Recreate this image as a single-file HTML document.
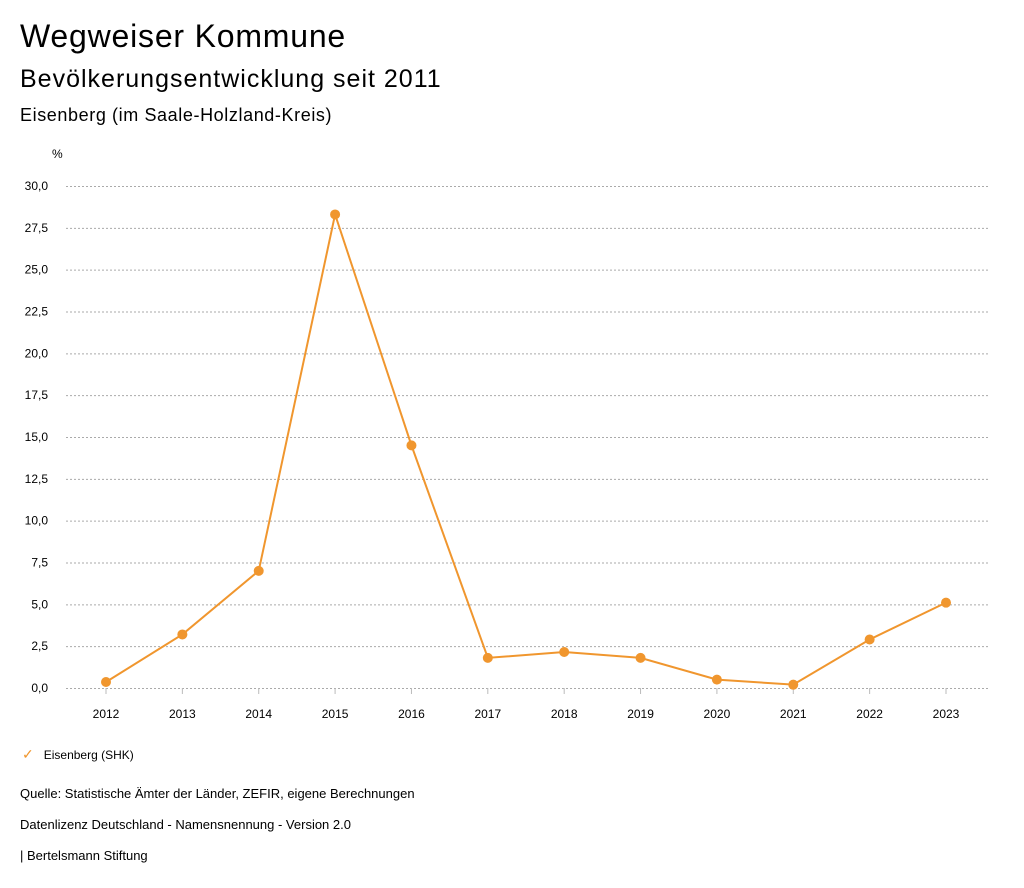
<!DOCTYPE html>
<html><head><meta charset="utf-8"><style>
body{margin:0;width:1024px;height:888px;background:#fff;font-family:"Liberation Sans",sans-serif;color:#000;overflow:hidden}
.t{position:absolute;white-space:nowrap}
</style></head><body>
<div class="t" style="left:20px;top:18px;font-size:32px;letter-spacing:0.8px">Wegweiser Kommune</div>
<div class="t" style="left:20px;top:65px;font-size:25px;letter-spacing:1px">Bevölkerungsentwicklung seit 2011</div>
<div class="t" style="left:20px;top:105px;font-size:18px;letter-spacing:0.6px">Eisenberg (im Saale-Holzland-Kreis)</div>
<svg id="c" width="1024" height="888" style="position:absolute;left:0;top:0"></svg>
<div class="t" style="left:22px;top:746px;font-size:12px"><span style="color:#f0962e;font-size:14px">✓</span>&nbsp;&nbsp;&nbsp;Eisenberg (SHK)</div>
<div class="t" style="left:20px;top:786px;font-size:13px">Quelle: Statistische Ämter der Länder, ZEFIR, eigene Berechnungen</div>
<div class="t" style="left:20px;top:817px;font-size:13px">Datenlizenz Deutschland - Namensnennung - Version 2.0</div>
<div class="t" style="left:20px;top:848px;font-size:13px">| Bertelsmann Stiftung</div>
<script>
const years=["2012","2013","2014","2015","2016","2017","2018","2019","2020","2021","2022","2023"];
const values=[0.36,3.2,7.0,28.3,14.5,1.8,2.15,1.8,0.5,0.2,2.9,5.1];
const yTicks=[0,2.5,5,7.5,10,12.5,15,17.5,20,22.5,25,27.5,30];
const svg=document.getElementById('c');const NS='http://www.w3.org/2000/svg';
function x(i){return 106+i*(946-106)/(years.length-1);}
function y(v){return 688-v*(688-186)/30;}
function mk(t,a,txt){const e=document.createElementNS(NS,t);for(const k in a)e.setAttribute(k,a[k]);if(txt!==undefined)e.textContent=txt;svg.appendChild(e);return e;}
let u=mk('text',{x:52,y:158,'font-size':12,'font-family':'Liberation Sans'},'%');


yTicks.forEach(v=>{
 let g=mk('line',{x1:66,x2:990,y1:y(v)+0.5,y2:y(v)+0.5,stroke:'#aaa','stroke-dasharray':'2,2','stroke-width':1});
 
 
 let l=mk('text',{x:48,y:y(v)+4,'font-size':12,'text-anchor':'end','font-family':'Liberation Sans'},v.toFixed(1).replace('.',','));
 
 
});
years.forEach((yr,i)=>{
 let tk=mk('line',{x1:x(i),x2:x(i),y1:688,y2:694,stroke:'#bbb'});
 
 
 let l=mk('text',{x:x(i),y:718,'font-size':12,'text-anchor':'middle','font-family':'Liberation Sans'},yr);
 
 
});
let p=mk('polyline',{points:values.map((v,i)=>x(i)+','+y(v)).join(' '),fill:'none',stroke:'#f0962e','stroke-width':2});


values.forEach((v,i)=>{
 let c=mk('circle',{cx:x(i),cy:y(v),r:5,fill:'#f0962e'});
 
 
});
</script>
</body></html>
